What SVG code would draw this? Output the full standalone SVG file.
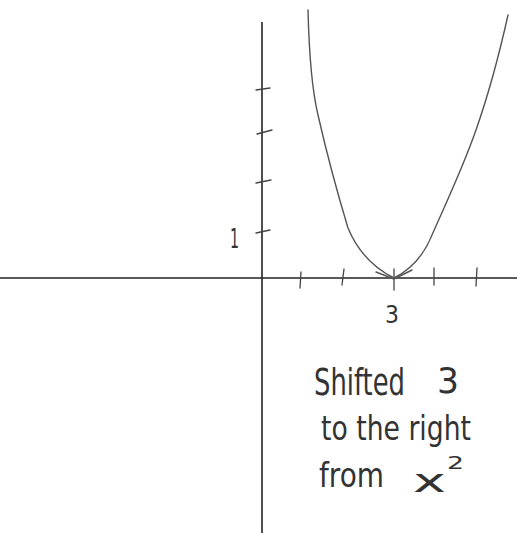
<svg xmlns="http://www.w3.org/2000/svg" width="517" height="533" viewBox="0 0 517 533">
<style>
.axis{stroke:#222;stroke-width:1.6;fill:none}
.tick{stroke:#444;stroke-width:1.3;fill:none;stroke-linecap:round}
.curve{stroke:#555;stroke-width:1.4;fill:none;stroke-linecap:round;stroke-linejoin:round}
.hw{font-family:"DejaVu Sans",sans-serif;fill:#333;font-weight:normal}
</style>
<rect width="517" height="533" fill="#fff"/>
<g id="axes">
<line class="axis" x1="262" y1="22" x2="262" y2="533"/>
<line class="axis" x1="0" y1="278" x2="517" y2="278"/>
</g>
<g id="yticks">
<path class="tick" d="M256 90 L270 88"/>
<path class="tick" d="M257 134 L272 130"/>
<path class="tick" d="M256 183 L271 180"/>
<path class="tick" d="M256 233 L270 230"/>
</g>
<g id="xticks">
<path class="tick" d="M301 272 L300 288"/>
<path class="tick" d="M344 269 L342 285"/>
<path class="tick" d="M394 269 L394 290"/>
<path class="tick" d="M434 268 L434 285"/>
<path class="tick" d="M477 268 L476 286"/>
</g>
<g id="curve">
<path class="curve" d="M308 10 C309 50 312 90 318 115 C326 150 338 195 348 228 C358 252 374 268 394 278"/>
<path class="curve" d="M394 278 C410 270 424 255 432 235 C445 205 462 170 476 130 C490 90 498 60 508 15"/>
<path class="curve" d="M376 272 L394 279 L412 270"/>
</g>
<g id="labels">
<text class="hw" x="230" y="248" font-size="26" textLength="9" lengthAdjust="spacingAndGlyphs">1</text>
<text class="hw" x="385" y="323" font-size="24" textLength="14" lengthAdjust="spacingAndGlyphs">3</text>
<text class="hw" transform="translate(314,395) scale(0.68,1)" font-size="38">Shifted</text>
<text class="hw" x="437" y="393" font-size="36" textLength="22" lengthAdjust="spacingAndGlyphs">3</text>
<text class="hw" x="321" y="440" font-size="34" textLength="150" lengthAdjust="spacingAndGlyphs">to  the right</text>
<text class="hw" x="319" y="487" font-size="34" textLength="65" lengthAdjust="spacingAndGlyphs">from</text>
<text class="hw" x="413" y="492" font-size="32" textLength="33" lengthAdjust="spacingAndGlyphs">x</text>
<text class="hw" x="447" y="469" font-size="18" textLength="17" lengthAdjust="spacingAndGlyphs">2</text>
</g>
</svg>
